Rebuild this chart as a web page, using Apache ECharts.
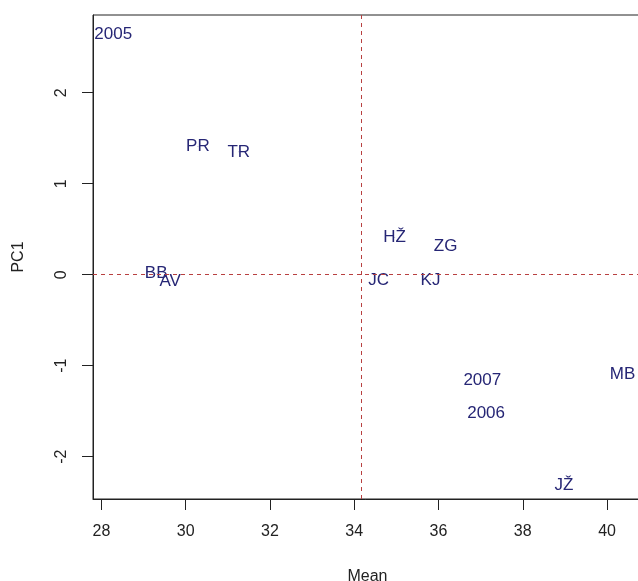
<!DOCTYPE html>
<html>
<head>
<meta charset="utf-8">
<script src="https://cdn.jsdelivr.net/npm/echarts@6/dist/echarts.min.js"></script>
<style>
html,body{margin:0;padding:0;background:#fff;}
#c{width:638px;height:581px;}
</style>
</head>
<body>
<div id="c"></div>
<script>
var names = ['2005','PR','TR','BB','AV','HŽ','ZG','JC','KJ','2007','2006','MB','JŽ'];
var meanVals = [28.28, 30.29, 31.26, 29.30, 29.63, 34.96, 36.17, 34.58, 35.81, 37.04, 37.13, 40.37, 38.98];
var pc1Vals = [2.64, 1.41, 1.35, 0.01, -0.07, 0.41, 0.31, -0.06, -0.06, -1.16, -1.52, -1.10, -2.31];
var xTicks = [28, 30, 32, 34, 36, 38, 40];
var yTicks = [-2, -1, 0, 1, 2];
var xRef = 34.173;
var yRef = 0;

var pts = names.map(function(n, i){ return {name: n, value: [meanVals[i], pc1Vals[i]]}; });

var chart = echarts.init(document.getElementById('c'), null, {renderer:'canvas'});
var font = 'Liberation Sans';
chart.setOption({
  animation: false,
  backgroundColor: '#ffffff',
  grid: {left: 93, top: 15, width: 549, height: 484, outerBoundsMode: 'none', containLabel: false,
         show: true, borderColor: '#222', borderWidth: 1, backgroundColor: 'transparent'},
  xAxis: {
    type: 'value', min: 27.8, max: 40.83,
    name: 'Mean', nameLocation: 'middle', nameGap: 70,
    nameTextStyle: {fontFamily: font, fontSize: 16, color: '#222'},
    axisLine: {show: true, onZero: false, lineStyle: {color: '#222'}},
    axisTick: {show: true, inside: false, length: 11, lineStyle: {color: '#222'}, customValues: xTicks},
    axisLabel: {fontFamily: font, fontSize: 16, color: '#222', margin: 25, customValues: xTicks},
    splitLine: {show: false}
  },
  yAxis: {
    type: 'value', min: -2.465, max: 2.854,
    name: 'PC1', nameLocation: 'middle', nameGap: 66, nameRotate: 90,
    nameTextStyle: {fontFamily: font, fontSize: 16, color: '#222'},
    axisLine: {show: true, onZero: false, lineStyle: {color: '#222'}},
    axisTick: {show: true, length: 11, lineStyle: {color: '#222'}, customValues: yTicks},
    axisLabel: {fontFamily: font, fontSize: 16, color: '#222', margin: 23, rotate: 90, customValues: yTicks},
    splitLine: {show: false}
  },
  series: [{
    type: 'scatter',
    data: pts,
    symbolSize: 1,
    itemStyle: {color: '#22226e', opacity: 0.4},
    label: {show: true, position: 'inside', formatter: '{b}', fontFamily: font, fontSize: 17,
            color: '#262675', textBorderWidth: 0, opacity: 1},
    markLine: {
      silent: true, symbol: 'none',
      label: {show: false},
      lineStyle: {color: '#b84040', type: [4, 4], width: 1, opacity: 1},
      data: [{xAxis: xRef}, {yAxis: yRef}]
    }
  }]
});
</script>
</body>
</html>
